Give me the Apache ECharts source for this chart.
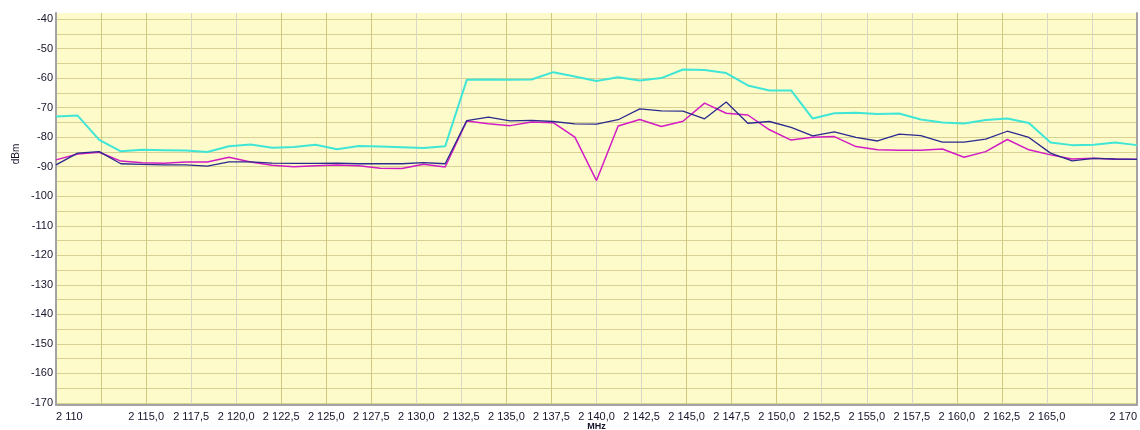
<!DOCTYPE html>
<html>
<head>
<meta charset="utf-8">
<script src="https://cdn.jsdelivr.net/npm/echarts@6/dist/echarts.min.js"></script>
<style>
html,body{margin:0;padding:0;background:#fff;}
#chart{width:1140px;height:430px;}
</style>
</head>
<body>
<div id="chart"></div>
<script>
const freq = [2110.0, 2111.2, 2112.4, 2113.6, 2114.8, 2116.0, 2117.2, 2118.4, 2119.6, 2120.8,
  2122.0, 2123.2, 2124.4, 2125.6, 2126.8, 2128.0, 2129.2, 2130.4, 2131.6, 2132.8,
  2134.0, 2135.2, 2136.4, 2137.6, 2138.8, 2140.0, 2141.2, 2142.4, 2143.6, 2144.8,
  2146.0, 2147.2, 2148.4, 2149.6, 2150.8, 2152.0, 2153.2, 2154.4, 2155.6, 2156.8,
  2158.0, 2159.2, 2160.4, 2161.6, 2162.8, 2164.0, 2165.2, 2166.4, 2167.6, 2168.8, 2170.0];

const cyanTrace = [-73.0, -72.7, -80.9, -84.8, -84.3, -84.4, -84.5, -85.0, -83.1, -82.5,
  -83.6, -83.3, -82.6, -84.1, -83.0, -83.2, -83.4, -83.7, -83.1, -60.6,
  -60.5, -60.6, -60.5, -58.0, -59.5, -61.0, -59.7, -60.8, -60.0, -57.1,
  -57.3, -58.3, -62.5, -64.2, -64.2, -73.7, -71.9, -71.7, -72.2, -72.0,
  -74.0, -75.0, -75.4, -74.2, -73.7, -75.2, -81.8, -82.7, -82.6, -81.8, -82.7];

const navyTrace = [-89.4, -85.4, -84.9, -89.0, -89.2, -89.4, -89.4, -89.8, -88.4, -88.4,
  -88.8, -88.9, -88.9, -88.8, -89.0, -89.0, -89.0, -88.6, -89.0, -74.4,
  -73.2, -74.5, -74.3, -74.7, -75.5, -75.6, -74.1, -70.4, -71.1, -71.2,
  -73.8, -68.1, -75.3, -74.7, -76.7, -79.6, -78.2, -80.1, -81.3, -79.0,
  -79.5, -81.7, -81.7, -80.7, -78.0, -80.1, -85.4, -88.0, -87.2, -87.4, -87.5];

const magentaTrace = [-87.7, -85.7, -85.1, -88.1, -88.7, -88.8, -88.4, -88.4, -86.8, -88.4,
  -89.5, -90.0, -89.7, -89.4, -89.7, -90.5, -90.6, -89.2, -90.1, -74.5,
  -75.5, -76.1, -74.9, -75.1, -80.0, -94.7, -76.2, -74.0, -76.4, -74.6,
  -68.5, -71.9, -72.5, -77.5, -81.0, -80.0, -79.8, -83.2, -84.3, -84.4,
  -84.4, -84.0, -86.8, -84.9, -80.8, -84.3, -86.0, -87.4, -87.1, -87.5, -87.5];

const xTickLabels = ['2 110', '', '2 115,0', '2 117,5', '2 120,0', '2 122,5', '2 125,0', '2 127,5',
  '2 130,0', '2 132,5', '2 135,0', '2 137,5', '2 140,0', '2 142,5', '2 145,0', '2 147,5',
  '2 150,0', '2 152,5', '2 155,0', '2 157,5', '2 160,0', '2 162,5', '2 165,0', '', '2 170'];

const yTickLabels = ['-40', '-50', '-60', '-70', '-80', '-90', '-100', '-110', '-120', '-130', '-140', '-150', '-160', '-170'];

const OL = '#cfc87e', GR = '#d9d7c8';
const vColors = [OL, OL, OL, GR, GR, OL, OL, OL, GR, GR, OL, OL, GR, GR, OL, OL, OL, GR, GR, GR, OL, OL, GR, GR, OL];

const chart = echarts.init(document.getElementById('chart'));
const pair = arr => freq.map((f, i) => [f, arr[i]]);
const font = 'Liberation Sans, Arial, sans-serif';

chart.setOption({
  animation: false,
  backgroundColor: '#ffffff',
  grid: [
    {left: 56, right: 3, top: 13, bottom: 25, show: true, backgroundColor: '#fdfbca', borderWidth: 0,
      outerBoundsMode: 'none', containLabel: false},
    {left: 56, right: 3, top: 19, bottom: 27, outerBoundsMode: 'none', containLabel: false}
  ],
  xAxis: [
    {
      gridIndex: 0, type: 'value', min: 2110, max: 2170, interval: 2.5,
      name: 'MHz', nameLocation: 'middle', nameGap: 17, nameMoveOverlap: false,
      nameTextStyle: {fontFamily: font, fontSize: 9, fontWeight: 'bold', color: '#14142a', verticalAlign: 'top'},
      axisLine: {show: true, lineStyle: {color: '#a3a3a3', width: 2}},
      axisTick: {show: false},
      axisLabel: {
        margin: 6, fontFamily: font, fontSize: 11, color: '#14142a',
        showMinLabel: true, showMaxLabel: true, hideOverlap: false,
        alignMinLabel: 'left', alignMaxLabel: 'right',
        formatter: v => xTickLabels[Math.round((v - 2110) / 2.5)] || ''
      },
      splitLine: {show: true, lineStyle: {color: vColors, width: 1}}
    },
    {gridIndex: 1, type: 'value', min: 2110, max: 2170, show: false}
  ],
  yAxis: [
    {gridIndex: 0, type: 'value', min: 0, max: 1, position: 'left',
      axisLine: {show: true, lineStyle: {color: '#a3a3a3', width: 2}},
      axisTick: {show: false}, axisLabel: {show: false}, splitLine: {show: false}},
    {gridIndex: 0, type: 'value', min: 0, max: 1, position: 'right',
      axisLine: {show: true, lineStyle: {color: '#a3a3a3', width: 2}},
      axisTick: {show: false}, axisLabel: {show: false}, splitLine: {show: false}},
    {gridIndex: 1, type: 'value', min: -170, max: -40, interval: 5,
      axisLine: {show: false}, axisTick: {show: false},
      axisLabel: {
        margin: 3, fontFamily: font, fontSize: 11, color: '#14142a',
        formatter: v => (v % 10 === 0 ? yTickLabels[Math.round((-40 - v) / 10)] : '')
      },
      splitLine: {show: true, lineStyle: {color: '#d8d193', width: 1}}
    }
  ],
  graphic: [{
    type: 'text', x: 16, y: 154, rotation: Math.PI / 2,
    style: {text: 'dBm', fontFamily: font, fontSize: 10, fill: '#14142a', align: 'center', verticalAlign: 'middle'}
  }],
  series: [
    {type: 'line', xAxisIndex: 1, yAxisIndex: 2, data: pair(cyanTrace), showSymbol: false, symbol: 'none',
      lineStyle: {color: '#3fe6d6', width: 2}, z: 3},
    {type: 'line', xAxisIndex: 1, yAxisIndex: 2, data: pair(magentaTrace), showSymbol: false, symbol: 'none',
      lineStyle: {color: '#d21cc4', width: 1.5}, z: 4},
    {type: 'line', xAxisIndex: 1, yAxisIndex: 2, data: pair(navyTrace), showSymbol: false, symbol: 'none',
      lineStyle: {color: '#2b2a8e', width: 1.3}, z: 5}
  ]
});
</script>
</body>
</html>
